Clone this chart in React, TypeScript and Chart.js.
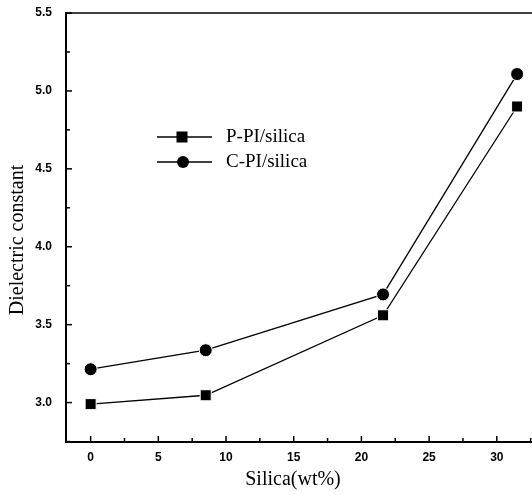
import React, { useEffect, useRef } from 'react';
import { Chart, registerables } from 'chart.js';

Chart.register(...registerables);

const silica = [0, 8.5, 21.6, 31.5];
const pPI = [2.99, 3.047, 3.56, 4.9];
const cPI = [3.214, 3.336, 3.694, 5.108];
const seriesNames = ['P-PI/silica', 'C-PI/silica'];
const xTicks = [0, 5, 10, 15, 20, 25, 30];
const yTicks = [3.0, 3.5, 4.0, 4.5, 5.0, 5.5];
const xTitle = 'Silica(wt%)';
const yTitle = 'Dielectric constant';

const SERIF = "'Liberation Serif', 'Times New Roman', serif";
const SANS = "'Liberation Sans', Arial, sans-serif";

const decorPlugin = {
  id: 'decor',
  afterDraw(chart: any) {
    const { ctx, chartArea, scales } = chart;
    const xs = scales.x;
    const ys = scales.y;
    ctx.save();
    ctx.strokeStyle = '#000';
    ctx.fillStyle = '#000';
    // top border
    ctx.lineWidth = 1.5;
    ctx.beginPath();
    ctx.moveTo(chartArea.left, chartArea.top);
    ctx.lineTo(chartArea.right, chartArea.top);
    ctx.stroke();
    // inside ticks
    ctx.lineWidth = 1.5;
    const xStep = xTicks[1] - xTicks[0];
    for (let i = 0; i < xTicks.length; i++) {
      const v = xTicks[i];
      const px = xs.getPixelForValue(v);
      ctx.beginPath();
      ctx.moveTo(px, chartArea.bottom);
      ctx.lineTo(px, chartArea.bottom - 6);
      ctx.stroke();
      const mv = v + xStep / 2;
      const mpx = xs.getPixelForValue(mv);
      if (mpx < chartArea.right) {
        ctx.beginPath();
        ctx.moveTo(mpx, chartArea.bottom);
        ctx.lineTo(mpx, chartArea.bottom - 4);
        ctx.stroke();
      }
    }
    const yStep = yTicks[1] - yTicks[0];
    for (let i = 0; i < yTicks.length; i++) {
      const v = yTicks[i];
      const py = ys.getPixelForValue(v);
      ctx.beginPath();
      ctx.moveTo(chartArea.left, py);
      ctx.lineTo(chartArea.left + 6, py);
      ctx.stroke();
      const mv = v - yStep / 2;
      const mpy = ys.getPixelForValue(mv);
      if (mpy < chartArea.bottom) {
        ctx.beginPath();
        ctx.moveTo(chartArea.left, mpy);
        ctx.lineTo(chartArea.left + 4, mpy);
        ctx.stroke();
      }
    }
    // axis titles
    ctx.font = `20px ${SERIF}`;
    ctx.textAlign = 'center';
    ctx.textBaseline = 'middle';
    ctx.fillText(xTitle, 293, 480);
    ctx.save();
    ctx.translate(18, 240);
    ctx.rotate(-Math.PI / 2);
    ctx.fillText(yTitle, 0, 0);
    ctx.restore();
    // legend
    const legendYs = [137, 162];
    chart.data.datasets.forEach((ds: any, i: number) => {
      const y = legendYs[i];
      ctx.lineWidth = 1.3;
      ctx.beginPath();
      ctx.moveTo(157, y);
      ctx.lineTo(212, y);
      ctx.stroke();
      if (ds.pointStyle === 'rect') {
        ctx.fillRect(182 - 5.5, y - 5.5, 11, 11);
      } else {
        ctx.beginPath();
        ctx.arc(183, y, 6, 0, Math.PI * 2);
        ctx.fill();
      }
      ctx.font = `19px ${SERIF}`;
      ctx.textAlign = 'left';
      ctx.textBaseline = 'middle';
      ctx.fillText(ds.label, 226, y);
    });
    ctx.restore();
  },
};

const zeroPad = (s: any) => {
  s.paddingTop = 0;
  s.paddingBottom = 0;
  s.paddingLeft = 0;
  s.paddingRight = 0;
};

export default function App() {
  const ref = useRef<HTMLCanvasElement>(null);
  useEffect(() => {
    document.body.style.margin = '0';
    const canvas = ref.current!;
    const chart = new Chart(canvas, {
      type: 'scatter',
      data: {
        datasets: [
          {
            label: seriesNames[0],
            data: silica.map((x, i) => ({ x, y: pPI[i] })),
            showLine: true,
            borderColor: '#000',
            borderWidth: 1.3,
            pointStyle: 'rect',
            pointRadius: 7.8,
            pointBackgroundColor: '#000',
            pointBorderColor: '#fff',
            pointBorderWidth: 1,
          },
          {
            label: seriesNames[1],
            data: silica.map((x, i) => ({ x, y: cPI[i] })),
            showLine: true,
            borderColor: '#000',
            borderWidth: 1.3,
            pointStyle: 'circle',
            pointRadius: 6.5,
            pointBackgroundColor: '#000',
            pointBorderColor: '#fff',
            pointBorderWidth: 1,
          },
        ],
      },
      options: {
        animation: false,
        responsive: false,
        maintainAspectRatio: false,
        layout: { autoPadding: false, padding: { top: 13, right: 0, left: 0, bottom: 0 } },
        plugins: { legend: { display: false }, tooltip: { enabled: false } },
        scales: {
          x: {
            type: 'linear',
            min: -1.82,
            max: 32.6,
            grid: { display: false, drawTicks: false },
            border: { display: true, color: '#000', width: 2 },
            afterBuildTicks: (s: any) => {
              s.ticks = xTicks.map((v) => ({ value: v }));
            },
            afterFit: (s: any) => {
              s.height = 53;
              zeroPad(s);
            },
            ticks: {
              color: '#000',
              padding: 8,
              maxRotation: 0,
              font: { family: SANS, size: 12, weight: 'bold' },
              callback: (v: any) => String(v),
            },
          },
          y: {
            type: 'linear',
            min: 2.747,
            max: 5.5,
            grid: { display: false, drawTicks: false },
            border: { display: true, color: '#000', width: 2 },
            afterBuildTicks: (s: any) => {
              s.ticks = yTicks.map((v) => ({ value: v }));
            },
            afterFit: (s: any) => {
              s.width = 66;
              zeroPad(s);
            },
            ticks: {
              color: '#000',
              padding: 14,
              font: { family: SANS, size: 12, weight: 'bold' },
              callback: (v: any) => Number(v).toFixed(1),
            },
          },
        },
      },
      plugins: [decorPlugin],
    } as any);
    return () => chart.destroy();
  }, []);
  return (
    <div style={{ position: 'absolute', left: 0, top: 0, width: 532, height: 495, background: '#fff' }}>
      <canvas ref={ref} width={532} height={495} style={{ display: 'block' }} />
    </div>
  );
}
